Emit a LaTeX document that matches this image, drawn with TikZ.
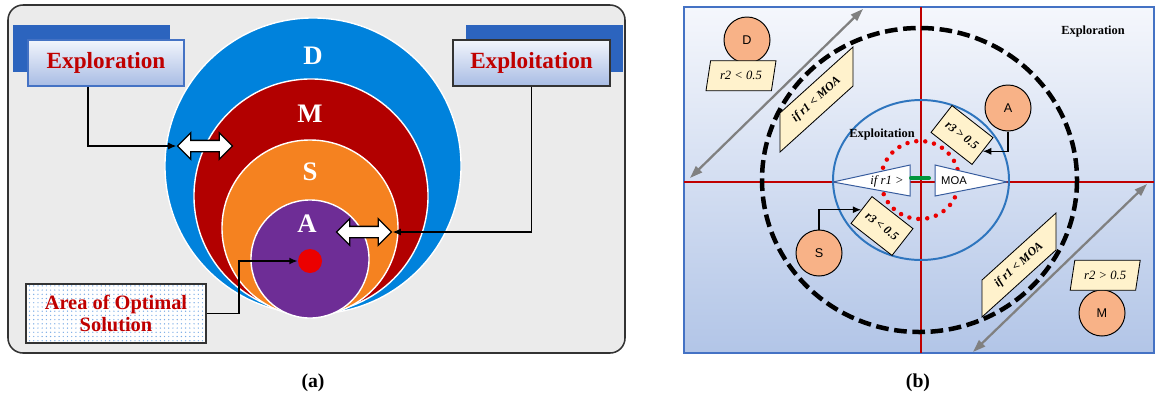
\documentclass[tikz,border=0pt]{standalone}
\usepackage{amsmath,amssymb}
\usepackage{fontspec}
\setmainfont{Liberation Serif}
\setsansfont{Liberation Sans}
\usetikzlibrary{arrows.meta,positioning,shapes.geometric,shapes.arrows,patterns}
\definecolor{panelgray}{RGB}{235,235,235}
\definecolor{ringD}{RGB}{0,130,220}
\definecolor{ringM}{RGB}{178,0,0}
\definecolor{ringS}{RGB}{245,130,32}
\definecolor{ringA}{RGB}{110,45,150}
\definecolor{optred}{RGB}{235,0,0}
\definecolor{shadowblue}{RGB}{44,100,190}
\definecolor{boxtop}{RGB}{242,245,252}
\definecolor{boxbot}{RGB}{168,188,228}
\definecolor{darkred}{RGB}{192,0,0}
\definecolor{dotblue}{RGB}{120,170,230}
\definecolor{orbfill}{RGB}{248,178,135}
\definecolor{pgfill}{RGB}{255,242,204}
\definecolor{axisred}{RGB}{192,0,0}
\definecolor{ringblue}{RGB}{46,117,190}
\definecolor{bgtop}{RGB}{245,247,252}
\definecolor{bgbot}{RGB}{178,197,231}
\definecolor{edgeblue}{RGB}{68,114,196}
\definecolor{arrgray}{RGB}{128,128,128}
\definecolor{dashgreen}{RGB}{0,150,60}

\begin{document}
\begin{tikzpicture}[x=0.025cm,y=-0.025cm,>=Latex]
\tikzstyle{ring}=[circle,draw=white,line width=1pt,inner sep=0]
\tikzstyle{ringlbl}=[text=white,font=\fontsize{19}{20}\selectfont\bfseries]
\tikzstyle{hdbox}=[top color=boxtop,bottom color=boxbot,minimum height=1.15cm,line width=0.9pt,text=darkred,font=\fontsize{16.5}{18}\selectfont\bfseries]
\tikzstyle{dblarr}=[double arrow,draw=black,fill=white,line width=0.9pt,inner sep=0.125cm,minimum height=1.375cm,double arrow head extend=0.19cm]
\tikzstyle{link}=[->,line width=1.2pt,>={Latex[length=6pt,width=5pt]}]
\tikzstyle{orb}=[circle,draw=black,line width=0.7pt,fill=orbfill,minimum size=1.15cm,inner sep=0,font=\sffamily\fontsize{9}{10}\selectfont]
\tikzstyle{flat}=[trapezium,trapezium left angle=68,trapezium right angle=112,trapezium stretches body,draw=black,line width=0.6pt,fill=pgfill,minimum width=1.75cm,minimum height=0.75cm,inner sep=1pt,font=\itshape\fontsize{9}{10}\selectfont]
\tikzstyle{tilt}=[rectangle,draw=black,line width=0.6pt,fill=pgfill,minimum width=1.3cm,minimum height=0.85cm,rotate=-38,inner sep=1pt,font=\bfseries\itshape\fontsize{8.5}{10}\selectfont]
\tikzstyle{pgram}=[draw=black,line width=0.6pt,fill=pgfill]
\tikzstyle{slant}=[rotate=42,font=\bfseries\itshape\fontsize{8.5}{10}\selectfont]
\tikzstyle{wedge}=[draw=edgeblue!80!black,line width=0.7pt,fill=white]
\tikzstyle{grayarr}=[{Triangle[length=9pt,width=6pt]}-{Triangle[length=9pt,width=6pt]},draw=arrgray,fill=arrgray,line width=1.6pt]
\tikzstyle{zone}=[font=\fontsize{8.8}{10}\selectfont\bfseries]
\tikzstyle{caption}=[font=\fontsize{14}{16}\selectfont\bfseries]
\useasboundingbox (0,0) rectangle (1155,404);

\draw[draw=black!80,line width=1.1pt,fill=panelgray,rounded corners=0.375cm] (8,5) rectangle (625,353);
\node[ring,fill=ringD,minimum size=7.4cm] (cD) at (313,166) {};
\node[ring,fill=ringM,minimum size=5.85cm] (cM) at (311,196) {};
\node[ring,fill=ringS,minimum size=4.4cm] (cS) at (310,228) {};
\node[ring,fill=ringA,minimum size=2.95cm] (cA) at (310,259) {};
\node[circle,fill=optred,minimum size=0.6cm,inner sep=0] (opt) at (310,261) {};
\node[ringlbl] (lD) at (313,56) {D};
\node[ringlbl] (lM) at (310,114) {M};
\node[ringlbl] (lS) at (310,172) {S};
\node[ringlbl] (lA) at (307,224) {A};

\fill[shadowblue] (13,25) rectangle (170,72);
\fill[shadowblue] (466,25) rectangle (623,72);
\node[hdbox,draw=edgeblue,minimum width=3.9cm] (explor) at (106,63) {Exploration};
\node[hdbox,draw=black!80,minimum width=3.925cm] (exploit) at (531.5,63) {Exploitation};
\node[draw=black!80,line width=1pt,preaction={fill=white},pattern=dots,pattern color=dotblue,minimum width=4.5cm,minimum height=1.475cm,align=center,text=darkred,font=\fontsize{14.5}{16}\selectfont\bfseries] (area) at (116,313.5) {Area of Optimal\\Solution};

\node[dblarr] (arrL) at (205,146) {};
\node[dblarr] (arrR) at (364,232) {};
\draw[link] ([xshift=-0.45cm]explor.south) |- (arrL.west);
\draw[link] (exploit.south) |- (arrR.east);
\draw[link] (area.east) -- ++(32,0) |- (opt.west);
\node[caption] (capA) at (313,383) {(a)};

\draw[draw=edgeblue,line width=1pt,top color=bgtop,bottom color=bgbot] (684,7) rectangle (1154,353);
\draw[axisred,line width=1.2pt] (684,182) -- (1154,182);
\draw[axisred,line width=1.2pt] (921,7) -- (921,353);
\draw[black,line width=3.2pt,dash pattern=on 9pt off 4pt] (919.5,180) ellipse [x radius=157.5,y radius=152];
\draw[ringblue,line width=1.4pt] (921,180) ellipse [x radius=88,y radius=80];
\draw[optred,line width=3.2pt,line cap=round,dash pattern=on 0pt off 6.4pt] (920,180) circle (39);
\coordinate (g1a) at (690,178);
\coordinate (g1b) at (863,9);
\coordinate (g2a) at (973,352);
\coordinate (g2b) at (1147,184);
\draw[grayarr] (g1a) -- (g1b);
\draw[grayarr] (g2a) -- (g2b);

\draw[wedge] (833,182) -- (910,165) -- (910,196) -- cycle;
\draw[wedge] (1007,182) -- (935,165) -- (935,196) -- cycle;
\draw[dashgreen,line width=2.8pt,line cap=round] (911,178) -- (929,178);
\node[font=\itshape\fontsize{9}{10}\selectfont] (ifr) at (887,181) {if r1 >};
\node[font=\sffamily\fontsize{8}{10}\selectfont] (moa) at (954,181) {MOA};
\node[zone] (xplt) at (882,135) {Exploitation};
\node[zone] (xplr) at (1093,32) {Exploration};

\draw[pgram] (780,113) -- (853,47) -- (853,86) -- (780,152) -- cycle;
\node[slant] (c1) at (816.5,99.5) {if r1 < MOA};
\draw[pgram] (982,280) -- (1056,213) -- (1056,250) -- (982,317) -- cycle;
\node[slant] (c2) at (1019,265) {if r1 < MOA};

\node[orb] (bD) at (747,40) {D};
\node[orb] (bA) at (1008,108) {A};
\node[orb] (bS) at (819,253) {S};
\node[orb] (bM) at (1102,313) {M};
\node[flat,below=-0.08cm of bD,xshift=-0.15cm] (p2lo) {r2 < 0.5};
\node[flat,above=-0.03cm of bM,xshift=0.08cm] (p2hi) {r2 > 0.5};
\node[tilt] (g3) at (962,135) {r3 > 0.5};
\node[tilt] (g4) at (882,226) {r3 < 0.5};
\draw[->,line width=0.9pt,>={Latex[length=6pt,width=5pt]}] (bA.south) |- (g3.east);
\draw[->,line width=0.9pt,>={Latex[length=6pt,width=5pt]}] (bS.north) |- (g4.west);
\node[caption] (capB) at (918,383) {(b)};
\end{tikzpicture}
\end{document}
